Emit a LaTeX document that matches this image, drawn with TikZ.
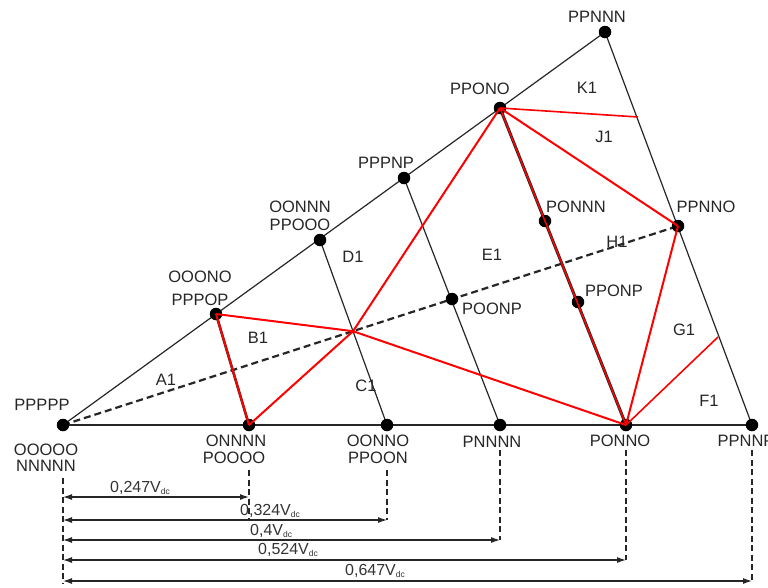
\documentclass[tikz,border=0pt]{standalone}
\usepackage{fontspec}
\setmainfont{Liberation Sans}
\usetikzlibrary{arrows.meta}
\newcommand{\Vdcsub}{V{\fontsize{8.5}{8.5}\selectfont\raisebox{-2.5pt}{dc}}}
\begin{document}
\begin{tikzpicture}[x=1pt,y=-1pt,
  lbl/.style={font=\fontsize{16.5}{17}\selectfont, inner sep=0pt, align=center, text=black!85},
  dimlbl/.style={font=\fontsize{16}{17}\selectfont, inner sep=0pt, text=black!80},
  edgeln/.style={line width=1.2pt, black!85},
  redln/.style={red, line width=2pt},
  redthin/.style={red, line width=1.6pt},
  dashln/.style={line width=2.2pt, black!85, dash pattern=on 7pt off 4pt},
  vdash/.style={line width=1.8pt, black!85, dash pattern=on 6pt off 3.5pt},
  dimarrow/.style={line width=1.2pt, black!85, {Latex[length=9pt,width=6pt]}-{Latex[length=9pt,width=6pt]}},
  vdot/.style={circle, fill=black, minimum size=12.5pt, inner sep=0pt}
]
\useasboundingbox (0,0) rectangle (768,587);

% switching-state vectors
\coordinate (O)     at (63,425);
\coordinate (onnnn) at (249,425);
\coordinate (oonno) at (387,425);
\coordinate (pnnnn) at (500,425);
\coordinate (ponno) at (626,425);
\coordinate (ppnnp) at (752,425);
\coordinate (ppnnn) at (605,32);
\coordinate (ppono) at (500,108);
\coordinate (pppnp) at (404,178);
\coordinate (oonnn) at (320,240);
\coordinate (ooono) at (216,314);
\coordinate (ponnn) at (545,221);
\coordinate (pponp) at (578,302);
\coordinate (poonp) at (452,299);
\coordinate (ppnno) at (678,226);
\coordinate (rK)    at (638,117);
\coordinate (rG)    at (718,337);
% crossing of the dashed line with the C1/D1 boundary
\coordinate (X) at (intersection of O--ppnno and oonno--oonnn);

% sector outline and sub-sector boundaries
\draw[edgeln] (O) -- (ppnnp);
\draw[edgeln] (O) -- (ppnnn);
\draw[edgeln] (ppnnp) -- (ppnnn);
\draw[edgeln] (pnnnn) -- (pppnp);
\draw[edgeln] (oonno) -- (oonnn);
\draw[line width=3pt, black!85] (ponno) -- (ppono);
\draw[line width=2.6pt, black!85] (onnnn) -- (ooono);

% dashed reference line
\draw[dashln] (O) -- (ppnno);

% dots
\foreach \p in {O,onnnn,oonno,pnnnn,ponno,ppnnp,ppnnn,ppono,pppnp,oonnn,ooono,ponnn,pponp,poonp,ppnno}
  \node[vdot] (d-\p) at (\p) {};

% selected triangles
\draw[redln] (ooono) -- (onnnn);
\draw[redln] (onnnn) -- (X) -- (ppono);
\draw[redln] (ooono) -- (X) -- (ponno);
\draw[redln, line width=1.5pt] (ppono) -- (ponno);
\draw[redln] (ppono) -- (ppnno);
\draw[redln] (ppnno) -- (ponno);
\draw[redthin] (ppono) -- (rK);
\draw[redthin] (ponno) -- (rG);

% vector labels
\node[lbl] (l-O) at (42,405) {PPPPP};
\node[lbl] (l-O1) at (46,450) {OOOOO};
\node[lbl] (l-O2) at (46,466) {NNNNN};
\node[lbl] (l-on1) at (236,441) {ONNNN};
\node[lbl] (l-on2) at (234,458) {POOOO};
\node[lbl] (l-oo1) at (378,441) {OONNO};
\node[lbl] (l-oo2) at (378,458) {PPOON};
\node[lbl] (l-pn) at (492,442) {PNNNN};
\node[lbl] (l-po) at (620,441) {PONNO};
\node[lbl] (l-pp) at (746,441) {PPNNP};
\node[lbl] (l-ppnnn) at (597,17) {PPNNN};
\node[lbl] (l-ppono) at (480,89) {PPONO};
\node[lbl] (l-pppnp) at (386,163) {PPPNP};
\node[lbl] (l-oonnn1) at (300,207) {OONNN};
\node[lbl] (l-oonnn2) at (300,225) {PPOOO};
\node[lbl] (l-ooono1) at (200,277) {OOONO};
\node[lbl] (l-ooono2) at (200,300) {PPPOP};
\node[lbl] (l-ponnn) at (576,207) {PONNN};
\node[lbl] (l-ppnno) at (706,207) {PPNNO};
\node[lbl] (l-pponp) at (614,291) {PPONP};
\node[lbl] (l-poonp) at (492,309) {POONP};

% region labels
\node[lbl] (A1) at (166,380) {A1};
\node[lbl] (B1) at (258,338) {B1};
\node[lbl] (C1) at (366,386) {C1};
\node[lbl] (D1) at (353,257) {D1};
\node[lbl] (E1) at (492,255) {E1};
\node[lbl] (F1) at (709,401) {F1};
\node[lbl] (G1) at (684,330) {G1};
\node[lbl] (H1) at (617,242) {H1};
\node[lbl] (J1) at (604,137) {J1};
\node[lbl] (K1) at (587,88) {K1};

% distance markers
\coordinate (m0) at (63,478);
\coordinate (m1) at (249,470);
\coordinate (m2) at (387,470);
\coordinate (m3) at (500,450);
\coordinate (m4) at (626,450);
\coordinate (m5) at (752,450);
\coordinate (y1) at (0,497);
\coordinate (y2) at (0,520);
\coordinate (y3) at (0,540);
\coordinate (y4) at (0,560);
\coordinate (y5) at (0,581);

\draw[vdash] (m0) -- (m0 |- 0,584);
\draw[vdash] (m1) -- (m1 |- 0,518);
\draw[vdash] (m2) -- (m2 |- y2);
\draw[vdash] (m3) -- (m3 |- y3);
\draw[vdash] (m4) -- (m4 |- y4);
\draw[vdash] (m5) -- (m5 |- y5);

\draw[dimarrow] (m0 |- y1) -- (m1 |- y1);
\draw[dimarrow] (m0 |- y2) -- (m2 |- y2);
\draw[dimarrow] (m0 |- y3) -- (m3 |- y3);
\draw[dimarrow] (m0 |- y4) -- (m4 |- y4);
\draw[dimarrow] (m0 |- y5) -- (m5 |- y5);

\node[dimlbl, anchor=west] (t1) at (110,488) {0,247\Vdcsub};
\node[dimlbl, anchor=west] (t2) at (240,511) {0,324\Vdcsub};
\node[dimlbl, anchor=west] (t3) at (250,531) {0,4\Vdcsub};
\node[dimlbl, anchor=west] (t4) at (258,550) {0,524\Vdcsub};
\node[dimlbl, anchor=west] (t5) at (345,571) {0,647\Vdcsub};
\end{tikzpicture}
\end{document}
